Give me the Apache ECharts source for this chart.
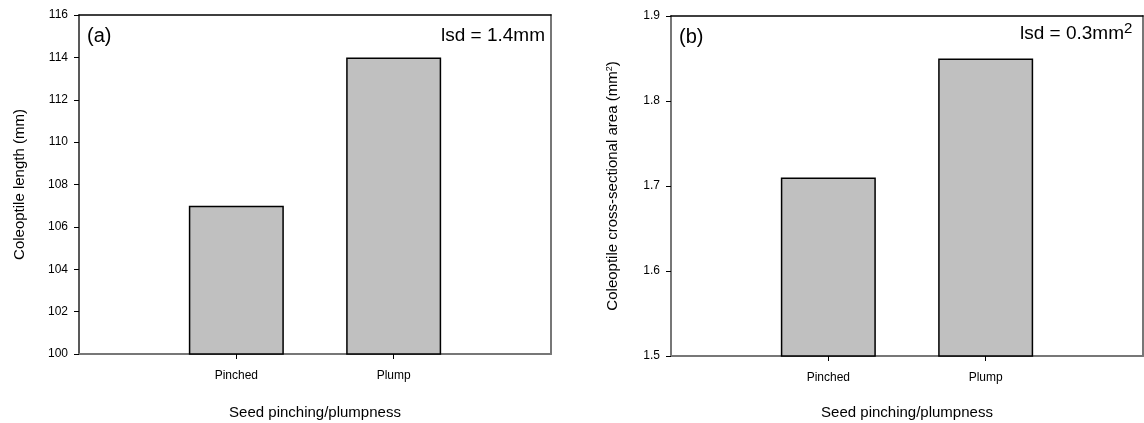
<!DOCTYPE html>
<html>
<head>
<meta charset="utf-8">
<script src="https://cdn.jsdelivr.net/npm/echarts@6/dist/echarts.min.js"></script>
<style>
  html, body { margin: 0; padding: 0; background: #fff; }
  #chart { width: 1144px; height: 423px; }
</style>
</head>
<body>
<div id="chart"></div>
<script>
// seed treatment groups
const categories = ["Pinched", "Plump"];
// (a) coleoptile length, mm
const lengthValues = [107, 114];
// (b) coleoptile cross-sectional area, mm^2
const areaValues = [1.71, 1.85];

const FONT = "Liberation Sans, Arial, sans-serif";

const chart = echarts.init(document.getElementById("chart"));

// category i sits at x = i + 1 on a 0..3 value axis
const toPoints = (vals) => vals.map((v, i) => [i + 1, v]);

const bottomAxis = (gridIndex, gap) => ({
  type: "value",
  gridIndex,
  min: 0,
  max: 3,
  interval: 1,
  name: "Seed pinching/plumpness",
  nameLocation: "middle",
  nameGap: gap,
  nameTextStyle: { fontFamily: FONT, fontSize: 15, color: "#000" },
  splitLine: { show: false },
  axisLine: { show: true, lineStyle: { color: "#777", width: 2 } },
  axisTick: { show: true, customValues: [1, 2], length: 5, lineStyle: { color: "#000" } },
  axisLabel: {
    customValues: [1, 2],
    margin: 16,
    fontFamily: FONT,
    fontSize: 12,
    color: "#000",
    formatter: (v) => categories[v - 1] || "",
  },
});

const topAxis = (gridIndex) => ({
  type: "value",
  gridIndex,
  position: "top",
  min: 0,
  max: 3,
  axisLine: { show: true, onZero: false, lineStyle: { color: "#000", width: 1.5 } },
  axisTick: { show: false },
  axisLabel: { show: false },
  splitLine: { show: false },
});

const rightAxis = (gridIndex, min, max) => ({
  type: "value",
  gridIndex,
  position: "right",
  min,
  max,
  axisLine: { show: true, onZero: false, lineStyle: { color: "#777", width: 2 } },
  axisTick: { show: false },
  axisLabel: { show: false },
  splitLine: { show: false },
});

const option = {
  animation: false,
  backgroundColor: "#fff",
  grid: [
    { left: 79, top: 15, width: 472, height: 339, outerBoundsMode: "none" },
    { left: 671, top: 16, width: 472, height: 340, outerBoundsMode: "none" },
  ],
  xAxis: [bottomAxis(0, 51), topAxis(0), bottomAxis(1, 49), topAxis(1)],
  yAxis: [
    {
      type: "value",
      gridIndex: 0,
      min: 100,
      max: 116,
      interval: 2,
      name: "Coleoptile length (mm)",
      nameLocation: "middle",
      nameGap: 52,
      nameTextStyle: { fontFamily: FONT, fontSize: 15, color: "#000" },
      splitLine: { show: false },
      axisLine: { show: true, onZero: false, lineStyle: { color: "#222", width: 1.5 } },
      axisTick: { show: true, length: 5, lineStyle: { color: "#000" } },
      axisLabel: { margin: 11, fontFamily: FONT, fontSize: 12, color: "#000" },
    },
    rightAxis(0, 100, 116),
    {
      type: "value",
      gridIndex: 1,
      min: 1.5,
      max: 1.9,
      interval: 0.1,
      name: "Coleoptile cross-sectional area (mm{sup|2})",
      nameLocation: "middle",
      nameGap: 50,
      nameTextStyle: {
        fontFamily: FONT,
        fontSize: 15,
        color: "#000",
        rich: { sup: { fontFamily: FONT, fontSize: 9, verticalAlign: "top", padding: [0, 0, 7, 0] } },
      },
      splitLine: { show: false },
      axisLine: { show: true, onZero: false, lineStyle: { color: "#777", width: 2 } },
      axisTick: { show: true, length: 5, lineStyle: { color: "#000" } },
      axisLabel: { margin: 11, fontFamily: FONT, fontSize: 12, color: "#000", formatter: (v) => v.toFixed(1) },
    },
    rightAxis(1, 1.5, 1.9),
  ],
  series: [
    {
      type: "bar",
      xAxisIndex: 0,
      yAxisIndex: 0,
      data: toPoints(lengthValues),
      barWidth: 95,
      clip: true,
      itemStyle: { color: "#c0c0c0", borderColor: "#000", borderWidth: 1.5 },
    },
    {
      type: "bar",
      xAxisIndex: 2,
      yAxisIndex: 2,
      data: toPoints(areaValues),
      barWidth: 95,
      clip: true,
      itemStyle: { color: "#c0c0c0", borderColor: "#000", borderWidth: 1.5 },
    },
  ],
  graphic: [
    { type: "text", left: 87, top: 26, style: { text: "(a)", font: "20px " + FONT, fill: "#000" } },
    { type: "text", left: 679, top: 27, style: { text: "(b)", font: "20px " + FONT, fill: "#000" } },
    {
      type: "text",
      left: 441,
      top: 26,
      style: { text: "lsd = 1.4mm", font: "19px " + FONT, fill: "#000" },
    },
    {
      type: "text",
      left: 1020,
      top: 21,
      style: {
        text: "lsd = 0.3mm{sup|2}",
        font: "19px " + FONT,
        fill: "#000",
        rich: { sup: { fontFamily: FONT, fontSize: 15, verticalAlign: "top", padding: [0, 0, 10, 0] } },
      },
    },
  ],
};

chart.setOption(option);
</script>
</body>
</html>
